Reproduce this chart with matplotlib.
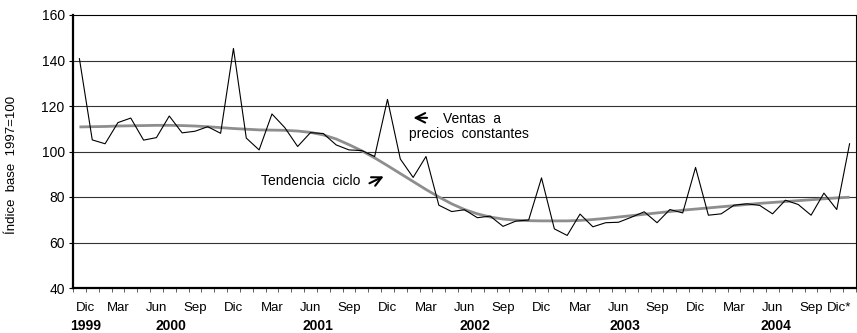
import numpy as np
import matplotlib
matplotlib.use("Agg")
import matplotlib.pyplot as plt
import matplotlib.transforms as mtransforms

plt.rcParams['font.family'] = ['Liberation Sans', 'DejaVu Sans']

# Índice mensual, Dic 1999 - Dic 2004
ventas = [140.8, 105.1, 103.4, 112.7, 114.7, 105.0, 106.1, 115.6, 108.2, 108.9,
          110.9, 108.0, 145.3, 105.9, 100.7, 116.5, 110.5, 102.2, 108.3, 107.9,
          102.9, 100.7, 100.4, 97.8, 122.9, 96.7, 88.6, 97.8, 76.4, 73.6,
          74.4, 70.9, 71.6, 67.1, 69.4, 69.9, 88.4, 66.0, 63.1, 72.5,
          66.9, 68.7, 68.9, 71.1, 73.5, 68.7, 74.5, 73.0, 93.0, 72.0,
          72.6, 76.4, 77.0, 76.3, 72.6, 78.6, 76.7, 72.0, 81.7, 74.5,
          103.4]
tendencia = [110.8, 110.9, 111.0, 111.2, 111.3, 111.4, 111.5, 111.5, 111.4, 111.2,
             110.9, 110.5, 110.1, 109.8, 109.5, 109.4, 109.3, 109.0, 108.4, 107.3,
             105.5, 103.0, 100.3, 97.2, 93.8, 90.3, 86.8, 83.3, 80.0, 77.0,
             74.5, 72.6, 71.2, 70.3, 69.8, 69.6, 69.5, 69.5, 69.5, 69.7,
             70.1, 70.6, 71.2, 71.8, 72.4, 73.0, 73.6, 74.2, 74.7, 75.2,
             75.7, 76.2, 76.7, 77.2, 77.6, 78.0, 78.4, 78.8, 79.2, 79.6,
             79.9]
meses = ['Dic', 'Mar', 'Jun', 'Sep'] * 5 + ['Dic*']
mes_pos = [0.5] + list(range(3, 58, 3)) + [59.2]
anios = ['1999', '2000', '2001', '2002', '2003', '2004']
anio_pos = [0.5, 7.1, 18.6, 30.8, 42.5, 54.3]

x = np.arange(len(ventas))

fig = plt.figure(figsize=(8.57, 3.33), dpi=100)
ax = fig.add_axes([73 / 857, 45 / 333, 783 / 857, 273 / 333])

ax.set_ylim(40, 160)
ax.set_xlim(-0.5, len(ventas) - 0.5)
ax.set_yticks(range(40, 161, 20))
for v in range(60, 160, 20):
    ax.axhline(v, color='#333333', lw=0.8, zorder=1)

ax.plot(x, tendencia, color='#8e8e8e', lw=2.0, zorder=2, solid_capstyle='butt')
ax.plot(x, ventas, color='black', lw=0.8, zorder=3)

# ejes
for s in ['top', 'right']:
    ax.spines[s].set_linewidth(0.8)
for s in ['left', 'bottom']:
    ax.spines[s].set_linewidth(1.6)
ax.tick_params(axis='y', length=3, width=0.8, labelsize=10, pad=3)
ax.set_xticks(np.arange(-0.5, len(ventas), 1))
ax.set_xticklabels([])
ax.tick_params(axis='x', length=3, width=0.6, color='#444444')

trans = mtransforms.blended_transform_factory(ax.transData, ax.transAxes)
for lab, p in zip(meses, mes_pos):
    ax.text(p, -0.075, lab, transform=trans, ha='center', va='center', fontsize=9.5)
for lab, p in zip(anios, anio_pos):
    ax.text(p, -0.14, lab, transform=trans, ha='center', va='center',
            fontsize=10, fontweight='bold')

ax.set_ylabel('Índice  base  1997=100', fontsize=9.5)
ax.yaxis.set_label_coords(-0.07, 0.45)

# anotaciones
ax.text(28.3, 114.4, 'Ventas  a', ha='left', va='center', fontsize=10)
ax.text(25.65, 107.8, 'precios  constantes', ha='left', va='center', fontsize=10)
ax.annotate('', xy=(25.8, 114.8), xytext=(27.3, 114.8),
            arrowprops=dict(arrowstyle='->', lw=1.5, color='black',
                            mutation_scale=17))
ax.text(21.9, 86.9, 'Tendencia  ciclo', ha='right', va='center', fontsize=10)
ax.annotate('', xy=(23.9, 89.6), xytext=(22.4, 85.5),
            arrowprops=dict(arrowstyle='->', lw=1.5, color='black',
                            mutation_scale=17))

fig.savefig('out.png', dpi=100)
